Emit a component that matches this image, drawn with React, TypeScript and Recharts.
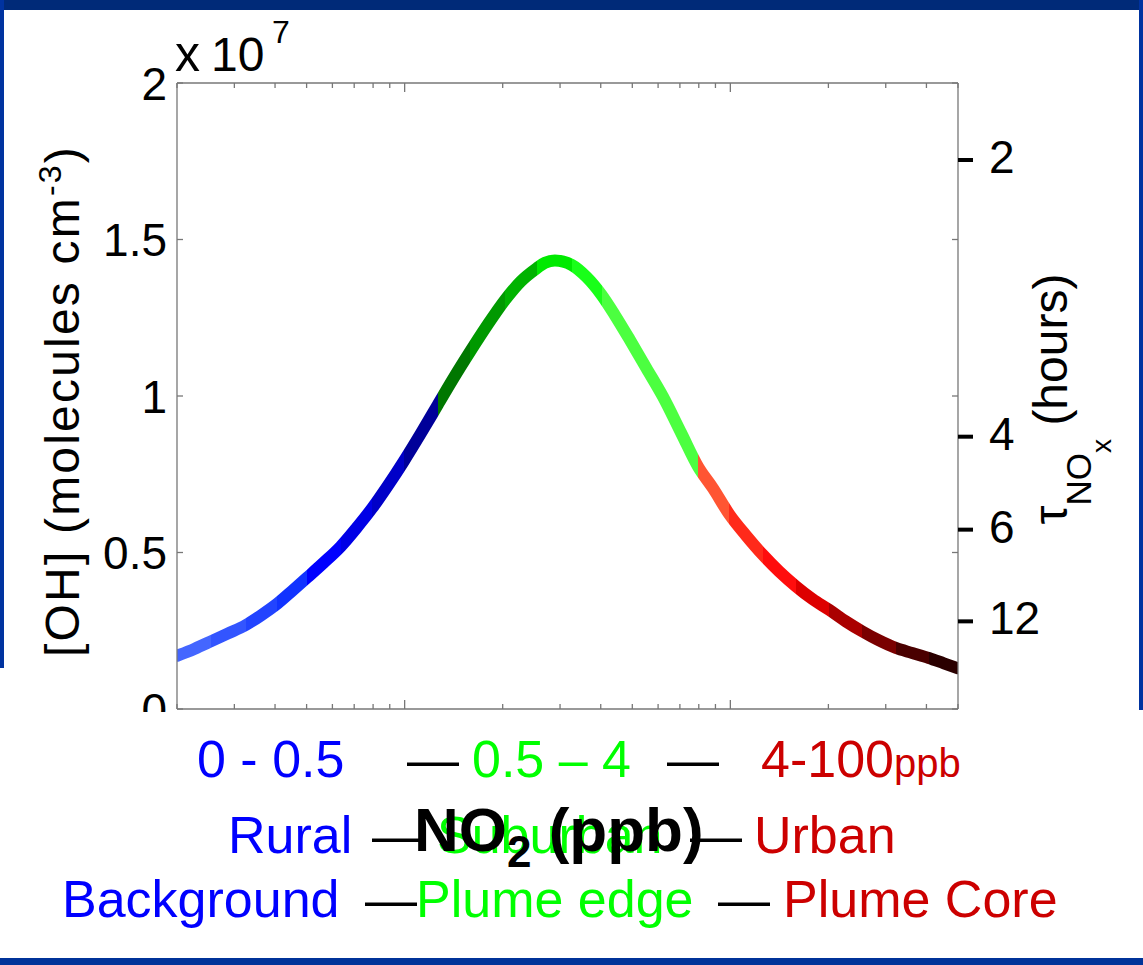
import { LineChart, Line, XAxis, YAxis, Label } from 'recharts';

// NO2 (ppb) along the log axis and steady-state [OH] (x 10^7 molecules cm-3)
const no2 = [
  0.2, 0.226, 0.254, 0.286, 0.325, 0.362, 0.407, 0.452, 0.502, 0.565,
  0.636, 0.711, 0.795, 0.887, 0.993, 1.122, 1.264, 1.413, 1.589, 1.796,
  2.034, 2.272, 2.543, 2.697, 2.893, 3.254, 3.618, 4.022, 4.416, 4.91,
  5.524, 6.21, 7.07, 7.96, 8.834, 9.94, 11.18, 12.57, 14.14, 15.9,
  17.88, 20.1, 22.62, 25.4, 28.61, 32.2, 36.18, 40.7, 45.24, 50,
];
const oh = [
  0.170, 0.192, 0.216, 0.241, 0.268, 0.299, 0.337, 0.378, 0.420, 0.468,
  0.519, 0.578, 0.642, 0.713, 0.791, 0.881, 0.972, 1.057, 1.142, 1.227,
  1.307, 1.366, 1.408, 1.426, 1.433, 1.419, 1.380, 1.323, 1.259, 1.180,
  1.089, 0.998, 0.881, 0.774, 0.706, 0.621, 0.554, 0.493, 0.439, 0.392,
  0.351, 0.317, 0.280, 0.248, 0.219, 0.195, 0.179, 0.163, 0.146, 0.130,
];

// NO2 value where each colour band of the curve starts
const segmentStarts = [
  0.2, 0.254, 0.325, 0.407, 0.502, 0.636, 0.795, 0.993,
  1.264, 1.589, 2.034, 2.543, 3.254, 4.022,
  7.96, 9.94, 12.57, 15.9, 20.1, 25.4, 32.2, 40.7,
];
const segmentColors = [
  '#4466ff', '#3355ff', '#2244ff', '#1133ff', '#0000ff', '#0000e6', '#0000c8', '#000099',
  '#007700', '#009900', '#00b300', '#00ea00', '#19ff19', '#4cff40',
  '#ff5533', '#ff2a1a', '#ff0d0d', '#dd0000', '#aa0000', '#7a0000', '#4a0000', '#2a0000',
];

const ohTicks = [0, 0.5, 1, 1.5, 2];
const no2Ticks = [
  0.2, 0.3, 0.4, 0.5, 0.6, 0.7, 0.8, 0.9,
  1, 2, 3, 4, 5, 6, 7, 8, 9,
  10, 20, 30, 40, 50,
];
const no2MajorTicks = [1, 10];
const no2Domain = [0.2, 50];

// right axis: NOx lifetime (hours), placed at the matching [OH]
const tauLabels = ['2', '4', '6', '12'];
const tauAtOh = [1.754, 0.87, 0.573, 0.28];

const regimeRanges = ['0 - 0.5', '0.5 – 4', '4-100'];
const regimeNames = ['Rural', 'Suburban', 'Urban'];
const sourceNames = ['Background', 'Plume edge', 'Plume Core'];

const rows = no2.map((x, k) => ({ no2: x, oh: oh[k] }));

// colour bands become hard stops of a horizontal gradient (curve spans the whole log domain)
const logFrac = (v: number) =>
  Math.log(v / no2Domain[0]) / Math.log(no2Domain[1] / no2Domain[0]);
const bandStops = segmentColors.flatMap((c, i) => {
  const from = logFrac(segmentStarts[i]);
  const to = i + 1 < segmentStarts.length ? logFrac(segmentStarts[i + 1]) : 1;
  return [
    { offset: from, color: c },
    { offset: to, color: c },
  ];
});

const FONT = '"Liberation Sans", Arial, Helvetica, sans-serif';
const GREY = '#777';
const BLUE = '#0000ff';
const GREEN = '#00ff00';
const RED = '#cc0000';

const xTick = (dir: number) => (props: any) => {
  const { x, y, payload } = props;
  const len = no2MajorTicks.includes(payload.value) ? 9 : 5;
  return <line x1={x} x2={x} y1={y} y2={y + dir * len} stroke={GREY} strokeWidth={1.3} />;
};

const leftTick = (props: any) => {
  const { x, y, payload } = props;
  const isZero = payload.value === 0;
  return (
    <g>
      {isZero && (
        <defs>
          <clipPath id="cutZero">
            <rect x={0} y={0} width={400} height={712} />
          </clipPath>
        </defs>
      )}
      <line x1={x} x2={x + 6} y1={y} y2={y} stroke={GREY} strokeWidth={1.3} />
      <text
        x={x - 10}
        y={y + 16.5}
        textAnchor="end"
        fontSize={46}
        fontFamily={FONT}
        fill="#000"
        clipPath={isZero ? 'url(#cutZero)' : undefined}
      >
        {String(payload.value)}
      </text>
    </g>
  );
};

const boxTick = (props: any) => {
  const { x, y } = props;
  return <line x1={x} x2={x - 6} y1={y} y2={y} stroke={GREY} strokeWidth={1.3} />;
};

const tauTick = (props: any) => {
  const { x, y, payload } = props;
  const idx = tauAtOh.indexOf(payload.value);
  return (
    <g>
      <line x1={x - 1} x2={x + 14} y1={y} y2={y} stroke="#000" strokeWidth={4} />
      <text x={x + 30} y={y + 13} fontSize={46} fontFamily={FONT} fill="#000">
        {tauLabels[idx]}
      </text>
    </g>
  );
};

const OhLabel = (props: any) => {
  const vb = props.viewBox || { x: 176, y: 83, width: 1, height: 626 };
  const cx = vb.x - 97;
  const cy = vb.y + vb.height / 2 + 5;
  return (
    <text
      transform={`translate(${cx},${cy}) rotate(-90)`}
      textAnchor="middle"
      fontSize={48}
      letterSpacing={2.2}
      fontFamily={FONT}
      fill="#000"
    >
      [OH] (molecules cm
      <tspan dy={-18} fontSize={32}>-3</tspan>
      <tspan dy={18}>)</tspan>
    </text>
  );
};

const TauLabel = (props: any) => {
  const vb = props.viewBox || { x: 959, y: 83, width: 1, height: 626 };
  const cx = vb.x + 108;
  const cy = vb.y + vb.height / 2 + 3;
  return (
    <text
      transform={`translate(${cx},${cy}) rotate(-90)`}
      textAnchor="middle"
      fontSize={48}
      fontFamily={FONT}
      fill="#000"
    >
      τ
      <tspan dy={24} fontSize={35}>NO</tspan>
      <tspan dy={20} fontSize={28}>x</tspan>
      <tspan dy={-44} fontSize={48}> (hours)</tspan>
    </text>
  );
};

const No2Label = (props: any) => {
  const vb = props.viewBox || { x: 177, y: 709, width: 781, height: 1 };
  return (
    <text x={vb.x + 237} y={vb.y + 142} fontSize={62} fontWeight="bold" fontFamily={FONT} fill="#000">
      NO
      <tspan dy={16} fontSize={44}>2</tspan>
      <tspan dy={-16} fontSize={62}> (ppb)</tspan>
    </text>
  );
};

const Annotations = () => (
  <svg width={1143} height={965} style={{ position: 'absolute', left: 0, top: 0 }}>
    <defs>
      <linearGradient id="regimeBands" x1="0" y1="0" x2="1" y2="0">
        {bandStops.map((s, i) => (
          <stop key={i} offset={s.offset} stopColor={s.color} />
        ))}
      </linearGradient>
    </defs>
    <g fontFamily={FONT} fontSize={52}>
      <text x={175} y={71} fontSize={50}>x</text>
      <text x={211} y={71} fontSize={48}>10</text>
      <text x={272} y={43} fontSize={32}>7</text>

      <text x={197} y={777} fill={BLUE}>{regimeRanges[0]}</text>
      <text x={407} y={777}>—</text>
      <text x={472} y={777} fill={GREEN}>{regimeRanges[1]}</text>
      <text x={667} y={777}>—</text>
      <text x={761} y={777} fill={RED}>
        {regimeRanges[2]}
        <tspan fontSize={40}>ppb</tspan>
      </text>

      <text x={228} y={853} fill={BLUE}>{regimeNames[0]}</text>
      <text x={372} y={853}>—</text>
      <text x={437} y={853} fill={GREEN}>{regimeNames[1]}</text>
      <text x={690} y={853}>—</text>
      <text x={754} y={853} fill={RED}>{regimeNames[2]}</text>

      <text x={62} y={917} fill={BLUE}>{sourceNames[0]}</text>
      <text x={365} y={917}>—</text>
      <text x={416} y={917} fill={GREEN}>{sourceNames[1]}</text>
      <text x={718} y={917}>—</text>
      <text x={783} y={917} fill={RED}>{sourceNames[2]}</text>
    </g>
  </svg>
);

export default function App() {
  return (
    <div
      style={{
        position: 'absolute',
        left: 0,
        top: 0,
        width: 1143,
        height: 965,
        background: '#fff',
        overflow: 'hidden',
        fontFamily: FONT,
      }}
    >
      <style>{'.ohcurve path { stroke-linecap: round; stroke-linejoin: round; }'}</style>
      <div style={{ position: 'absolute', left: 0, top: 0, width: 1143, height: 10, background: '#002a78' }} />
      <div style={{ position: 'absolute', left: 0, top: 0, width: 4, height: 668, background: '#0033a0' }} />
      <div style={{ position: 'absolute', left: 1139, top: 0, width: 4, height: 710, background: '#0033a0' }} />
      <div style={{ position: 'absolute', left: 0, top: 958, width: 1143, height: 7, background: '#003399' }} />

      <Annotations />

      <div style={{ position: 'absolute', left: 0, top: 0 }}>
        <LineChart width={1143} height={965} data={rows} margin={{ top: 82, right: 183, bottom: 255, left: 176 }}>
          <XAxis
            xAxisId="bottom"
            dataKey="no2"
            type="number"
            scale="log"
            domain={no2Domain}
            allowDataOverflow
            ticks={no2Ticks}
            interval={0}
            height={1}
            tickSize={0}
            tickMargin={0}
            tickLine={false}
            tick={xTick(-1)}
            axisLine={{ stroke: GREY, strokeWidth: 1.3 }}
          >
            <Label content={<No2Label />} />
          </XAxis>
          <XAxis
            xAxisId="top"
            orientation="top"
            dataKey="no2"
            type="number"
            scale="log"
            domain={no2Domain}
            allowDataOverflow
            ticks={no2Ticks}
            interval={0}
            height={1}
            tickSize={0}
            tickMargin={0}
            tickLine={false}
            tick={xTick(1)}
            axisLine={{ stroke: GREY, strokeWidth: 1.3 }}
          />
          <YAxis
            yAxisId="left"
            type="number"
            domain={[0, 2]}
            allowDataOverflow
            ticks={ohTicks}
            interval={0}
            width={1}
            tickSize={0}
            tickMargin={0}
            tickLine={false}
            tick={leftTick}
            axisLine={{ stroke: GREY, strokeWidth: 1.3 }}
          >
            <Label content={<OhLabel />} />
          </YAxis>
          <YAxis
            yAxisId="box"
            orientation="right"
            type="number"
            domain={[0, 2]}
            allowDataOverflow
            ticks={ohTicks}
            interval={0}
            width={1}
            tickSize={0}
            tickMargin={0}
            tickLine={false}
            tick={boxTick}
            axisLine={{ stroke: GREY, strokeWidth: 1.3 }}
          />
          <YAxis
            yAxisId="tau"
            orientation="right"
            type="number"
            domain={[0, 2]}
            allowDataOverflow
            ticks={tauAtOh}
            interval={0}
            width={1}
            tickSize={0}
            tickMargin={0}
            tickLine={false}
            tick={tauTick}
            axisLine={false}
          >
            <Label content={<TauLabel />} />
          </YAxis>
          {/* invisible carriers so the right-hand axes get their scales */}
          <Line xAxisId="top" yAxisId="box" dataKey="oh" stroke="none" dot={false} activeDot={false} isAnimationActive={false} />
          <Line xAxisId="top" yAxisId="tau" dataKey="oh" stroke="none" dot={false} activeDot={false} isAnimationActive={false} />
          <Line
            className="ohcurve"
            xAxisId="bottom"
            yAxisId="left"
            dataKey="oh"
            type="monotone"
            stroke="url(#regimeBands)"
            strokeWidth={12}
            strokeLinecap="round"
            dot={false}
            activeDot={false}
            isAnimationActive={false}
          />
        </LineChart>
      </div>
    </div>
  );
}
